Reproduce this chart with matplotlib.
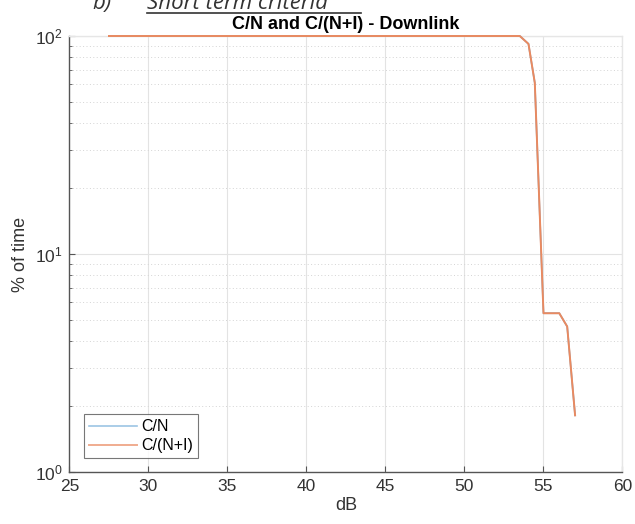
import numpy as np
import matplotlib
matplotlib.use('Agg')
import matplotlib.pyplot as plt
from matplotlib.lines import Line2D
from matplotlib.ticker import LogLocator, NullFormatter

# Downlink C/N and C/(N+I) exceedance curves (dB vs % of time)
db_values = [27.5, 53.5, 54.05, 54.45, 55.0, 56.0, 56.5, 57.0]
cn_percent = [100, 100, 92, 61, 5.35, 5.35, 4.65, 1.82]
cni_percent = [100, 100, 92, 61, 5.35, 5.35, 4.65, 1.82]
series_names = ['C/N', 'C/(N+I)']
x_ticks = [25, 30, 35, 40, 45, 50, 55, 60]

plt.rcParams['font.family'] = ['Liberation Sans', 'DejaVu Sans']

fig = plt.figure(figsize=(6.35, 5.24), dpi=100)
ax = fig.add_axes([0.1094, 0.0992, 0.8709, 0.8321])

ax.plot(db_values, cn_percent, color='#72acd8', lw=1.2, label=series_names[0],
        clip_on=False, zorder=3)
ax.plot(db_values, cni_percent, color='#ea8a60', lw=1.4, label=series_names[1],
        clip_on=False, zorder=4)

ax.set_yscale('log')
ax.set_xlim(25, 60)
ax.set_ylim(1, 100)
ax.set_xticks(x_ticks)
ax.yaxis.set_major_locator(LogLocator(base=10, numticks=5))
ax.yaxis.set_minor_locator(LogLocator(base=10, subs=np.arange(2, 10), numticks=20))
ax.yaxis.set_minor_formatter(NullFormatter())

# matlab-like grid: solid majors, dotted minors on y only
ax.grid(True, which='major', color='#e3e3e3', lw=0.8, ls='-')
ax.grid(True, which='minor', axis='y', color='#d4d4d4', lw=0.7, ls=(0, (1, 2.5)))
ax.set_axisbelow(True)

for side in ['left', 'bottom']:
    ax.spines[side].set_color('#555555')
    ax.spines[side].set_linewidth(1.0)
for side in ['top', 'right']:
    ax.spines[side].set_color('#e6e6e6')
    ax.spines[side].set_linewidth(1.0)

ax.tick_params(which='both', direction='in', color='#555555', labelcolor='#333333',
               labelsize=12.5, top=False, right=False)
ax.tick_params(which='major', length=4, pad=5)
ax.tick_params(which='minor', length=2.5)

ax.set_xlabel('dB', fontsize=13, color='#333333', labelpad=2)
ax.set_ylabel('% of time', fontsize=13, color='#333333', labelpad=4)
ax.set_title('C/N and C/(N+I) - Downlink', fontsize=13, fontweight='bold', pad=5)

leg = ax.legend(loc='lower left', bbox_to_anchor=(0.026, 0.032), borderaxespad=0,
                fontsize=11.5, frameon=True, fancybox=False, handlelength=3.0,
                handletextpad=0.3, borderpad=0.3, labelspacing=0.25)
leg.get_frame().set_edgecolor('#555555')
leg.get_frame().set_linewidth(0.8)
for line in leg.get_lines():
    line.set_alpha(0.7)

# section heading, partly cut off at the top of the page
fig.text(92 / 635, 1 - 9 / 524, 'b)', fontsize=16, style='italic',
         family=['Open Sans', 'DejaVu Sans'], color='#333333', va='baseline')
fig.text(147 / 635, 1 - 9 / 524, 'Short term criteria', fontsize=16, style='italic',
         family=['Open Sans', 'DejaVu Sans'], color='#333333', va='baseline')
fig.add_artist(Line2D([147 / 635, 361 / 635], [1 - 12.5 / 524] * 2, color='#333333',
                      lw=1.2, transform=fig.transFigure))

fig.savefig('out.png', dpi=100)
